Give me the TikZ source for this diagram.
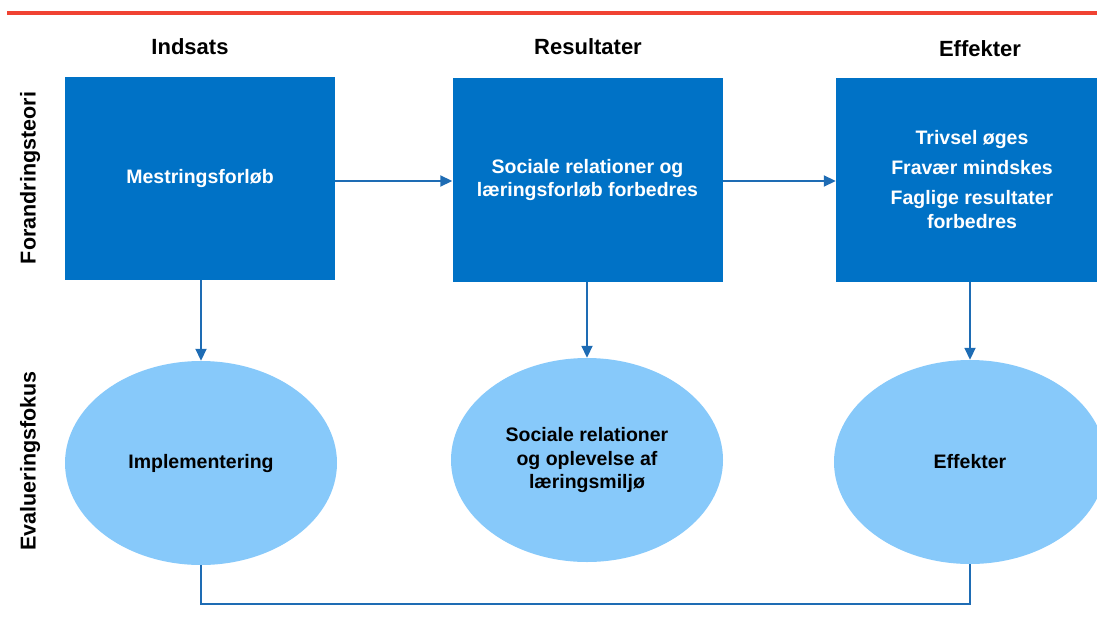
\documentclass[tikz,border=0pt]{standalone}
\usepackage{fontspec}
\setmainfont{Liberation Sans}
\usetikzlibrary{shapes.geometric,arrows.meta}
\definecolor{boxblue}{RGB}{0,114,198}
\definecolor{ellblue}{RGB}{135,201,250}
\definecolor{arrblue}{RGB}{30,108,180}
\definecolor{redline}{RGB}{240,66,50}
\tikzset{
  stepbox/.style={fill=boxblue, draw=none, minimum width=270pt, minimum height=203pt, inner sep=0pt, text=white, font=\bfseries\fontsize{19.5}{23.5}\selectfont, align=center},
  evalell/.style={ellipse, fill=ellblue, draw=none, minimum width=272pt, minimum height=204pt, inner sep=0pt, font=\bfseries\fontsize{19.5}{23.5}\selectfont, align=center},
  head/.style={font=\bfseries\fontsize{22}{26}\selectfont},
  side/.style={font=\bfseries\fontsize{21.5}{26}\selectfont, rotate=90},
  conn/.style={draw=arrblue, line width=1.8pt},
  arr/.style={conn, -{Triangle[length=12pt,width=11pt]}},
}
\begin{document}
\begin{tikzpicture}[x=1pt,y=-1pt]
\useasboundingbox (0,0) rectangle (1097,623);
\begin{scope}
\clip (0,0) rectangle (1097,623);
\draw[redline, line width=3.2pt] (7,13) -- (1097,13);
\node[head] (h1) at (190,47) {Indsats};
\node[head] (h2) at (588,47) {Resultater};
\node[head] (h3) at (980,49) {Effekter};
\node[side] (s1) at (30,178) {Forandringsteori};
\node[side] (s2) at (30,461) {Evalueringsfokus};
\node[stepbox] (b1) at (200,178.5) {Mestringsforløb};
\node[stepbox] (b2) at (587.5,180) {Sociale relationer og\\læringsforløb forbedres};
\node[stepbox] (b3) at (971,180) {};
\node[text=white, font=\bfseries\fontsize{19.5}{24}\selectfont, align=center] (t3) at (972,180) {Trivsel øges\\[6pt]Fravær mindskes\\[6pt]Faglige resultater\\forbedres};
\node[evalell] (e1) at (201,463) {Implementering};
\node[evalell] (e2) at (587,460) {Sociale relationer\\og oplevelse af\\læringsmiljø};
\node[evalell] (e3) at (970,462) {Effekter};
\draw[arr] (b1.east |- 0,181) -- (b2.west |- 0,181);
\draw[arr] (b2.east |- 0,181) -- (b3.west |- 0,181);
\draw[arr] (b1.south -| e1.north) -- (e1.north);
\draw[arr] (b2.south -| e2.north) -- (e2.north);
\draw[arr] (b3.south -| e3.north) -- (e3.north);
\coordinate (c1) at (201,604);
\coordinate (c2) at (970,604);
\draw[conn] (e1.south) -- (c1) -- (c2) -- (e3.south);
\end{scope}
\end{tikzpicture}
\end{document}
